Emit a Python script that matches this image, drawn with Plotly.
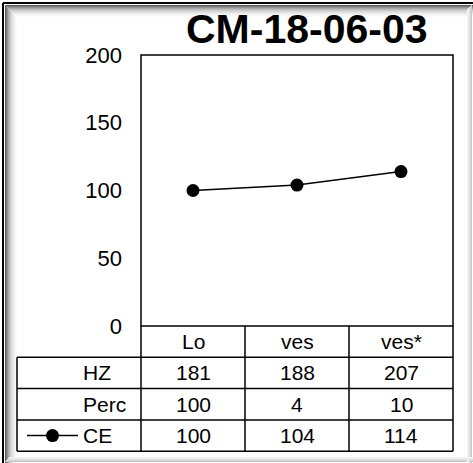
import plotly.graph_objects as go

# data
categories = ["Lo", "ves", "ves*"]
ce_values = [100, 104, 114]
hz_values = [181, 188, 207]
perc_values = [100, 4, 10]
row_labels = ["HZ", "Perc", "CE"]
titulo = "CM-18-06-03"

W, H = 473, 463
FONT = "Liberation Sans, Arial, sans-serif"


def px(x):
    return x / W


def py(y):
    return 1 - y / H


def linea(x0, y0, x1, y1, color="black", ancho=1.5):
    return dict(type="line", xref="paper", yref="paper", x0=px(x0), x1=px(x1), y0=py(y0), y1=py(y1),
                line=dict(color=color, width=ancho), layer="below")


# plot area in pixels
L, R, T, B = 141, 453, 55, 326
ROW_H = 31.3
x_pos = [i + 0.5 for i in range(len(categories))]

fig = go.Figure()
fig.add_trace(go.Scatter(
    x=x_pos, y=ce_values, mode="lines+markers",
    line=dict(color="black", width=1.5),
    marker=dict(color="black", size=13),
    showlegend=False, hoverinfo="skip", cliponaxis=False,
))

shapes = []
# marco con sombra (degradado gris)
grises = ["#5a5a5a", "#7a7a7a", "#959595", "#aaaaaa", "#bcbcbc", "#cbcbcb",
          "#d8d8d8", "#e2e2e2", "#ebebeb", "#f2f2f2", "#f7f7f7", "#fbfbfb"]
for i, g in enumerate(grises):
    d = 5.5 + i
    shapes.append(linea(d, d, d, H, g, 1))      # izquierda
    shapes.append(linea(d, d, W, d, g, 1))      # arriba
grises_rb = ["#c8c8c8", "#d6d6d6", "#e2e2e2", "#ececec", "#f4f4f4"]
for i, g in enumerate(grises_rb):
    shapes.append(linea(W - 1.5 - i, 5 + i, W - 1.5 - i, H, g, 1))    # derecha
    shapes.append(linea(5 + i, H - 1.5 - i, W, H - 1.5 - i, g, 1))    # abajo
shapes.append(linea(3, 3, W, 3, "black", 2))
shapes.append(linea(3, 3, 3, H, "black", 2))
# cuadro del grafico
shapes.append(dict(type="rect", xref="paper", yref="paper", x0=px(L), x1=px(R), y0=py(B), y1=py(T),
                   line=dict(color="black", width=1.5), fillcolor="white", layer="below"))

# tabla
n_rows = len(row_labels)
tab_bottom = B + ROW_H * (n_rows + 1)
col_w = (R - L) / len(categories)
for k in range(n_rows + 1):
    yy = B + ROW_H * (k + 1)
    shapes.append(linea(17, yy, R, yy))
for j in range(len(categories) + 1):
    xx = L + col_w * j
    shapes.append(linea(xx, B, xx, tab_bottom))
shapes.append(linea(17, B + ROW_H, 17, tab_bottom))
# simbolo de leyenda CE
y_ce = B + ROW_H * 3.5
shapes.append(linea(27, y_ce, 78, y_ce))
shapes.append(dict(type="circle", xref="paper", yref="paper", x0=px(46), x1=px(59), y0=py(y_ce + 6.5), y1=py(y_ce - 6.5),
                   line=dict(color="black", width=0), fillcolor="black"))

annotations = [dict(text="<b>" + titulo + "</b>", xref="paper", yref="paper", x=px(307), y=py(29),
                    xanchor="center", yanchor="middle", showarrow=False,
                    font=dict(family=FONT, size=41, color="black"))]
txt_font = dict(family=FONT, size=21, color="black")
for i, c in enumerate(categories):
    annotations.append(dict(text=c, xref="x", yref="paper", x=x_pos[i], y=py(B + ROW_H * 0.5),
                            yanchor="middle", showarrow=False, font=txt_font))
filas = [hz_values, perc_values, ce_values]
for k, vals in enumerate(filas):
    yc = py(B + ROW_H * (k + 1.5))
    annotations.append(dict(text=row_labels[k], xref="paper", yref="paper", x=px(81), y=yc,
                            xanchor="left", yanchor="middle", showarrow=False, font=txt_font))
    for i, v in enumerate(vals):
        annotations.append(dict(text=str(v), xref="x", yref="paper", x=x_pos[i], y=yc,
                                yanchor="middle", showarrow=False, font=txt_font))

fig.update_layout(
    width=W, height=H,
    margin=dict(l=0, r=0, t=0, b=0, pad=0),
    paper_bgcolor="white", plot_bgcolor="white",
    xaxis=dict(domain=[px(L), px(R)], range=[0, len(categories)], showticklabels=False,
               showgrid=False, zeroline=False, fixedrange=True, automargin=False),
    yaxis=dict(domain=[py(B), py(T)], range=[0, 200], tickvals=[0, 50, 100, 150, 200],
               showgrid=False, zeroline=False, ticks="", ticklabelstandoff=18, automargin=False,
               fixedrange=True, tickfont=dict(family=FONT, size=22, color="black")),
    shapes=shapes,
    annotations=annotations,
)

fig.write_html("out.html", config={"displayModeBar": False},
               post_script="document.body.style.margin='0';")
